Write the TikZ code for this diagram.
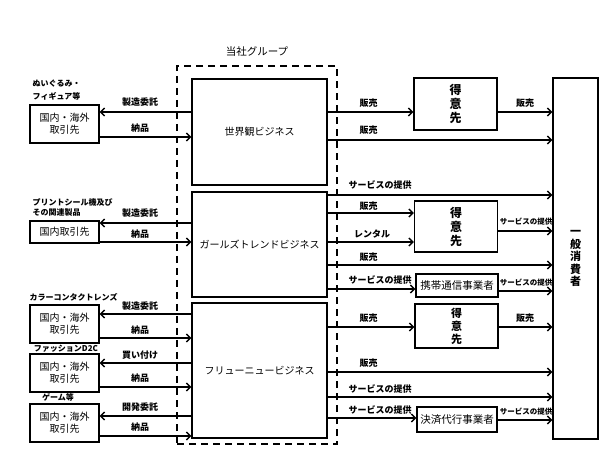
\documentclass[tikz,border=0pt]{standalone}
\usepackage{fontspec}
\setmainfont{Noto Sans CJK JP}
\usetikzlibrary{arrows.meta}
\begin{document}
\begin{tikzpicture}[x=1pt,y=-1pt,line width=1.4pt,
  box/.style={draw,line width=1.4pt,inner sep=0pt,align=center,font=\fontsize{10}{12}\selectfont},
  tok/.style={box,font=\fontsize{12}{14}\selectfont\bfseries,minimum width=83pt},
  arr/.style={-{Straight Barb[length=4pt,width=8pt]}},
  lab/.style={font=\fontsize{9}{10}\selectfont\bfseries,inner sep=0pt},
  slab/.style={font=\fontsize{7.5}{9}\selectfont\bfseries,inner sep=0pt},
  cat/.style={font=\fontsize{8}{9}\selectfont\bfseries,inner sep=0pt}]
\useasboundingbox (0,0) rectangle (616,462);
% group
\node[draw,dash pattern=on 7pt off 5pt,minimum width=160pt,minimum height=378pt,inner sep=0pt] (grp) at (257,255) {};
\node[font=\fontsize{10.5}{12}\selectfont,inner sep=0pt] (title) at (257,52) {当社グループ};
% businesses
\node[box,minimum width=135pt,minimum height=106pt] (b1) at (259.5,132) {世界観ビジネス};
\node[box,minimum width=135pt,minimum height=105pt] (b2) at (259.5,244.5) {ガールズトレンドビジネス};
\node[box,minimum width=135pt,minimum height=135pt] (b3) at (259.5,370.5) {フリューニュービジネス};
% left partners
\node[box,minimum width=69pt,minimum height=38pt] (l1) at (64.5,124) {国内・海外\\取引先};
\node[box,minimum width=69pt,minimum height=22pt] (l2) at (64.5,232) {国内取引先};
\node[box,minimum width=69pt,minimum height=38pt] (l3) at (64.5,324) {国内・海外\\取引先};
\node[box,minimum width=69pt,minimum height=38pt] (l4) at (64.5,373) {国内・海外\\取引先};
\node[box,minimum width=69pt,minimum height=38pt] (l5) at (64.5,423) {国内・海外\\取引先};
% categories
\node[cat,anchor=west] (c1a) at (32,84) {ぬいぐるみ・};
\node[cat,anchor=west] (c1b) at (32,96) {フィギュア等};
\node[cat,anchor=west] (c2a) at (32,202) {プリントシール機及び};
\node[cat,anchor=west] (c2b) at (32,212) {その関連製品};
\node[cat,anchor=west] (c3) at (29,297) {カラーコンタクトレンズ};
\node[cat] (c4) at (66,349) {ファッションD2C};
\node[cat] (c5) at (58,397) {ゲーム等};
% left arrows
\draw[arr] (b1.west |- 0,112) -- (l1.east |- 0,112);
\draw[arr] (l1.east |- 0,137) -- (b1.west |- 0,137);
\draw[arr] (b2.west |- 0,223) -- (l2.east |- 0,223);
\draw[arr] (l2.east |- 0,242) -- (b2.west |- 0,242);
\draw[arr] (b3.west |- 0,314) -- (l3.east |- 0,314);
\draw[arr] (l3.east |- 0,338) -- (b3.west |- 0,338);
\draw[arr] (b3.west |- 0,363) -- (l4.east |- 0,363);
\draw[arr] (l4.east |- 0,387) -- (b3.west |- 0,387);
\draw[arr] (b3.west |- 0,416) -- (l5.east |- 0,416);
\draw[arr] (l5.east |- 0,436) -- (b3.west |- 0,436);
\node[lab] (la1) at (140,102) {製造委託};
\node[lab] (la2) at (140,128) {納品};
\node[lab] (la3) at (140,213) {製造委託};
\node[lab] (la4) at (140,234) {納品};
\node[lab] (la5) at (140,306) {製造委託};
\node[lab] (la6) at (140,330) {納品};
\node[lab] (la7) at (140,355) {買い付け};
\node[lab] (la8) at (140,378) {納品};
\node[lab] (la9) at (140,407) {開発委託};
\node[lab] (la10) at (140,427) {納品};
% right side
\node[box,minimum width=45pt,minimum height=361pt,font=\fontsize{11}{12.5}\selectfont\bfseries] (c) at (575.5,258.5) {一\\般\\消\\費\\者};
\node[tok,minimum height=52pt] (t1) at (455.5,104) {得\\意\\先};
\node[tok,minimum height=51pt] (t2) at (456,226.5) {得\\意\\先};
\node[box,minimum width=82pt,minimum height=23pt,font=\fontsize{10.5}{12}\selectfont] (k) at (457,285.5) {携帯通信事業者};
\node[tok,minimum height=44pt,font=\fontsize{11}{13}\selectfont\bfseries] (t3) at (456.5,326) {得\\意\\先};
\node[box,minimum width=80pt,minimum height=25pt,font=\fontsize{10.5}{12}\selectfont] (s) at (457,419.5) {決済代行事業者};
% right arrows
\draw[arr] (b1.east |- 0,112) -- (t1.west |- 0,112);
\draw[arr] (t1.east |- 0,112) -- (c.west |- 0,112);
\draw[arr] (b1.east |- 0,140) -- (c.west |- 0,140);
\draw[arr] (b2.east |- 0,195) -- (c.west |- 0,195);
\draw[arr] (b2.east |- 0,213) -- (t2.west |- 0,213);
\draw[arr] (b2.east |- 0,242) -- (t2.west |- 0,242);
\draw[arr] (t2.east |- 0,231) -- (c.west |- 0,231);
\draw[arr] (b2.east |- 0,265) -- (c.west |- 0,265);
\draw[arr] (b2.east |- 0,289) -- (k.west |- 0,289);
\draw[arr] (k.east |- 0,291) -- (c.west |- 0,291);
\draw[arr] (b3.east |- 0,327) -- (t3.west |- 0,327);
\draw[arr] (t3.east |- 0,327) -- (c.west |- 0,327);
\draw[arr] (b3.east |- 0,372) -- (c.west |- 0,372);
\draw[arr] (b3.east |- 0,397) -- (c.west |- 0,397);
\draw[arr] (b3.east |- 0,418) -- (s.west |- 0,418);
\draw[arr] (s.east |- 0,420) -- (c.west |- 0,420);
\node[lab] (r1) at (368.5,103) {販売};
\node[lab] (r2) at (525,103) {販売};
\node[lab] (r3) at (368.5,130) {販売};
\node[lab] (r4) at (380,185) {サービスの提供};
\node[lab] (r5) at (368.5,206) {販売};
\node[lab] (r6) at (372,234) {レンタル};
\node[slab] (r7) at (526,222) {サービスの提供};
\node[lab] (r8) at (368.5,257) {販売};
\node[lab] (r9) at (380,280) {サービスの提供};
\node[slab] (r10) at (526,283) {サービスの提供};
\node[lab] (r11) at (368.5,318) {販売};
\node[lab] (r12) at (525,318) {販売};
\node[lab] (r13) at (368.5,363) {販売};
\node[lab] (r14) at (380,389) {サービスの提供};
\node[lab] (r15) at (380,410) {サービスの提供};
\node[slab] (r16) at (526,412) {サービスの提供};
\end{tikzpicture}
\end{document}
